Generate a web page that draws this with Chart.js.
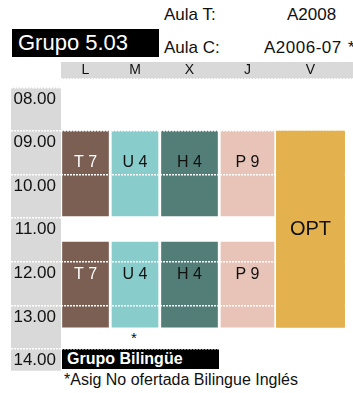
<!DOCTYPE html>
<html>

<head>
    <title>Horario Grupo 5.03</title>
    <script src="https://cdn.jsdelivr.net/npm/chart.js"></script>
    <style>
        body {
            margin: 0;
            background: #fff;
            font-family: "Liberation Sans", Arial, Helvetica, sans-serif;
            overflow: hidden;
        }

        .wrap {
            position: relative;
            width: 353px;
            height: 393px;
        }

        .txt {
            position: absolute;
            white-space: nowrap;
            font-size: 17px;
            line-height: 17px;
            color: #111;
        }

        .box {
            position: absolute;
            background: #000;
            color: #fff;
            white-space: nowrap;
        }

        canvas {
            position: absolute;
            left: 0;
            top: 0;
        }
    </style>
</head>

<body>
    <div class="wrap">
        <div class="txt" style="left:164px; top:6px;">Aula T:</div>
        <div class="txt" style="left:287px; top:6px;">A2008</div>
        <div class="txt" style="left:164px; top:39px;">Aula C:</div>
        <div class="txt" style="left:264px; top:39px; letter-spacing:0.5px;">A2006-07</div>
        <div class="txt" style="left:348px; top:39px;">*</div>
        <div class="box" style="left:12px; top:29px; width:141px; height:28px; padding-left:6px; font-size:22px; line-height:28px;">Grupo 5.03</div>
        <div class="box" style="left:62px; top:349px; width:152px; height:18px; padding:2px 0 0 5px; font-size:16px; line-height:16px; font-weight:bold;">Grupo Bilingüe</div>
        <div class="txt" style="left:131px; top:329px; font-size:15px;">*</div>
        <div class="txt" style="left:64px; top:372px; font-size:16px; line-height:16px;">*Asig No ofertada Bilingue Inglés</div>
        <canvas id="horario" width="353" height="393"></canvas>
    </div>

    <script>
        // data
        const days = ['L', 'M', 'X', 'J', 'V'];
        const subjects = ['T 7', 'U 4', 'H 4', 'P 9', 'OPT'];
        const hours = [8, 9, 10, 11, 12, 13, 14];
        const hourLabels = ['08.00', '09.00', '10.00', '11.00', '12.00', '13.00', '14.00'];
        const firstBlock = [9, 10.95];
        const secondBlock = [11.55, 13.5];
        const fridayBlock = [9, 13.5];
        const dayBlocks = [
            [firstBlock, secondBlock],
            [firstBlock, secondBlock],
            [firstBlock, secondBlock],
            [firstBlock, secondBlock],
            [fridayBlock],
        ];

        // look
        const colors = ['#7b5f53', '#88cdcc', '#537e78', '#e8c4b8', '#e3b24e'];
        const textColors = ['#fff', '#111', '#111', '#111', '#111'];
        const colWidths = [49, 50, 59, 57, 69];   // px, columns are not all the same size
        const barWidths = [46, 46, 56, 53, 68];
        const grey = '#d9d9d9';
        const fontFamily = '"Liberation Sans", Arial, Helvetica, sans-serif';
        const headerBand = 17;   // height of the grey day strip

        // centre of every day column in x units (1 unit = 1px)
        const colCenters = [];
        let acc = 0;
        colWidths.forEach(w => { colCenters.push(acc + w / 2); acc += w; });

        const datasets = days.map((d, i) => ({
            label: d,
            data: dayBlocks[i].map(b => ({ x: colCenters[i], y: b })),
            backgroundColor: colors[i],
            barThickness: barWidths[i],
            grouped: false,
            borderWidth: 0,
        }));

        const timetablePlugin = {
            id: 'timetable',
            beforeDraw(chart) {
                // grey strip behind the day letters
                const ctx = chart.ctx;
                const x = chart.scales.x;
                ctx.save();
                ctx.fillStyle = grey;
                ctx.fillRect(x.left, x.top, chart.width - x.left, headerBand);
                ctx.strokeStyle = '#fff';
                ctx.lineWidth = 1.5;
                ctx.setLineDash([2, 1]);
                ctx.beginPath();
                ctx.moveTo(x.left, x.top + headerBand);
                ctx.lineTo(chart.width, x.top + headerBand);
                ctx.stroke();
                ctx.restore();
            },
            afterDraw(chart) {
                const ctx = chart.ctx;
                // friday block sits above the hour lines
                chart.getDatasetMeta(4).data.forEach(bar => bar.draw(ctx));
                ctx.save();
                ctx.textAlign = 'center';
                ctx.textBaseline = 'middle';
                chart.data.datasets.forEach((ds, i) => {
                    chart.getDatasetMeta(i).data.forEach(bar => {
                        const top = Math.min(bar.y, bar.base);
                        const y = i === 4 ? (bar.y + bar.base) / 2 : top + 32;
                        ctx.font = (i === 4 ? '20px ' : '16px ') + fontFamily;
                        ctx.fillStyle = textColors[i];
                        ctx.fillText(subjects[i], bar.x, y);
                    });
                });
                ctx.restore();
            }
        };

        new Chart(document.getElementById('horario'), {
            type: 'bar',
            data: { datasets: datasets },
            plugins: [timetablePlugin],
            options: {
                responsive: false,
                animation: false,
                layout: { padding: { left: 11, top: 62, right: 0, bottom: 22.3 } },
                plugins: {
                    legend: { display: false },
                    tooltip: { enabled: false },
                },
                scales: {
                    x: {
                        type: 'linear',
                        position: 'top',
                        min: 0,
                        max: 292,
                        offset: false,
                        grid: { display: false, drawTicks: false, offset: false },
                        border: { display: false },
                        afterBuildTicks: s => { s.ticks = colCenters.map(v => ({ value: v })); },
                        afterFit: s => { s.height = 25.5; },
                        ticks: {
                            callback: (v, i) => days[i],
                            autoSkip: false,
                            maxRotation: 0,
                            padding: 9,
                            color: '#111',
                            font: { family: fontFamily, size: 14 },
                        },
                    },
                    y: {
                        reverse: true,
                        min: 8,
                        max: 14.5,
                        backgroundColor: grey,
                        afterBuildTicks: s => { s.ticks = hours.map(v => ({ value: v })); },
                        afterFit: s => { s.width = 50; },
                        grid: {
                            color: '#fff',
                            lineWidth: 1.5,
                            tickLength: 50,
                            tickColor: '#fff',
                            tickWidth: 1.5,
                            tickBorderDash: [2, 1],
                            z: 1,
                        },
                        border: { display: false, dash: [2, 1] },
                        ticks: {
                            z: 1,
                            callback: (v, i) => hourLabels[i],
                            padding: -45,
                            labelOffset: 11.5,
                            color: '#111',
                            font: { family: fontFamily, size: 17 },
                        },
                    },
                },
            },
        });
    </script>
</body>

</html>
